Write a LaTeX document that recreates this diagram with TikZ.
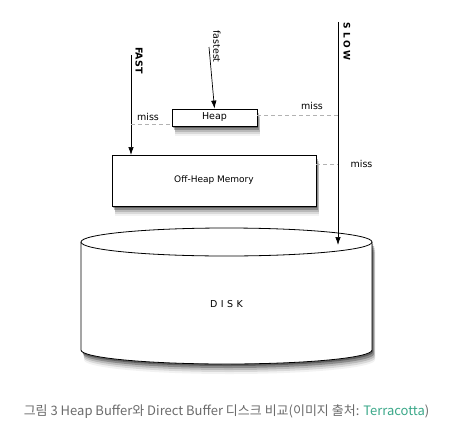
\documentclass[tikz,border=0pt]{standalone}
\usepackage{fontspec}
\setmainfont{DejaVu Sans}
\newfontfamily\krfont{Noto Sans CJK KR}
\usetikzlibrary{arrows.meta,shadows}
\definecolor{capgray}{HTML}{6B6B6B}
\definecolor{linkgreen}{HTML}{3BA889}
\tikzset{
  x=1pt,y=-1pt,
  boxstyle/.style={draw,line width=0.8pt,fill=white,inner sep=0pt,
    drop shadow={shadow xshift=1pt,shadow yshift=-2pt,opacity=0.3,fill=black},
    drop shadow={shadow xshift=2pt,shadow yshift=-4pt,opacity=0.25,fill=black},
    drop shadow={shadow xshift=2.5pt,shadow yshift=-6pt,opacity=0.15,fill=black},
    drop shadow={shadow xshift=3pt,shadow yshift=-8pt,opacity=0.1,fill=black},
    drop shadow={shadow xshift=3pt,shadow yshift=-10pt,opacity=0.05,fill=black}},
  arr/.style={line width=0.7pt,-{Latex[length=8pt,width=5.5pt]}},
  missline/.style={draw=gray!60,line width=1pt,dash pattern=on 4pt off 3pt},
  lbl/.style={font=\fontsize{9.5}{11}\selectfont,inner sep=0pt},
  vlbl/.style={font=\fontsize{9.5}{11}\selectfont,inner sep=0pt,rotate=-90},
}
\newcommand{\diskshadow}[3]{%
  \fill[black,opacity=#3] (81+#1,242+#2) -- (81+#1,350+#2) arc[start angle=180,end angle=360,x radius=145.5,y radius=-14] -- (372+#1,242+#2) -- cycle;}
\begin{document}
\begin{tikzpicture}
\useasboundingbox (0,0) rectangle (454,436);
% disk shadow
\diskshadow{1}{2}{0.3}
\diskshadow{2}{4}{0.25}
\diskshadow{2.5}{6}{0.15}
\diskshadow{3}{8}{0.1}
\diskshadow{3}{10}{0.05}
% disk body
\filldraw[fill=white,draw=black,line width=0.8pt]
  (81,242) -- (81,350) arc[start angle=180,end angle=360,x radius=145.5,y radius=-14] -- (372,242);
\filldraw[fill=white,draw=black,line width=0.8pt] (226.5,242) ellipse[x radius=145.5,y radius=14];
\node[lbl,font=\fontsize{9.5}{10}\selectfont] (disk) at (226.5,304) {D\hspace{3.5pt}I\hspace{3.5pt}S\hspace{3.5pt}K};
% boxes
\node[boxstyle,minimum width=85pt,minimum height=17pt,lbl] (heap) at (214.5,117.5) {Heap};
\node[boxstyle,minimum width=204pt,minimum height=51pt,lbl,font=\fontsize{9}{11}\selectfont] (off) at (214,180.5) {Off-Heap Memory};
% coordinates
\coordinate (fastTop) at (131,55);
\coordinate (fastTip) at (131,155);
\coordinate (fastestTop) at (209,47);
\coordinate (slowTop) at (338,22);
\coordinate (slowTip) at (338,245);
\coordinate (missL) at (131,124);
\coordinate (missR) at (338,115);
\coordinate (missO) at (338,164);
% arrows
\draw[arr] (fastTop) -- (fastTip);
\draw[arr] (fastestTop) -- (heap.north);
\draw[arr] (slowTop) -- (slowTip);
% dashed miss lines
\draw[missline] (missL) -- (heap.west |- missL);
\draw[missline] (heap.east |- missR) -- (missR);
\draw[missline] (off.east |- missO) -- (missO);
% labels
\node[vlbl,font=\fontsize{9.5}{11}\selectfont\bfseries] (fastlbl) at (139,60.5) {FAST};
\node[vlbl] (fastestlbl) at (217,46.5) {fastest};
\node[vlbl,font=\fontsize{9}{10}\selectfont\bfseries] (slowlbl) at (347,41.5) {S\hspace{3.5pt}L\hspace{2.5pt}O\hspace{2.5pt}W};
\node[lbl] (m1) at (148,116.5) {miss};
\node[lbl] (m2) at (312,106) {miss};
\node[lbl] (m3) at (361.5,164) {miss};
% caption
\node[inner sep=0pt,font=\krfont\fontsize{13}{15}\selectfont,text=capgray] (cap) at (226.5,412)
  {그림 3 Heap Buffer와 Direct Buffer 디스크 비교(이미지 출처: \textcolor{linkgreen}{Terracotta})};
\end{tikzpicture}
\end{document}
